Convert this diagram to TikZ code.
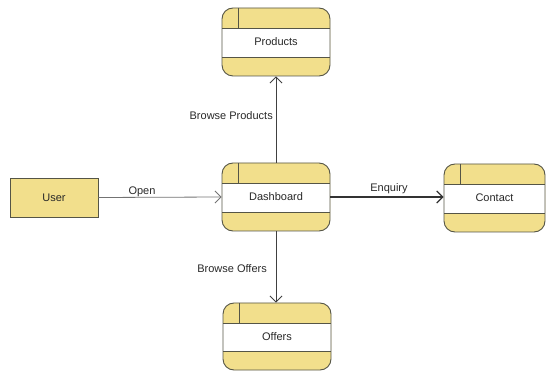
\documentclass[tikz,border=0pt]{standalone}
\usepackage{fontspec}
\setmainfont{Liberation Sans}
\usetikzlibrary{arrows.meta}
\definecolor{procfill}{RGB}{242,223,140}
\definecolor{procline}{RGB}{85,85,70}
\definecolor{txt}{RGB}{40,40,40}
\tikzset{
  procbox/.style={rectangle, rounded corners=11pt, draw=procline, line width=0.9pt,
    fill=procfill, minimum width=108pt, minimum height=68pt, inner sep=0pt,
    text=txt, font=\fontsize{11}{13}\selectfont,
    path picture={
      \fill[white, sharp corners] ([yshift=-20pt]path picture bounding box.north west) rectangle ([yshift=19pt]path picture bounding box.south east);
      \draw[procline, line width=0.9pt, sharp corners] ([yshift=-20pt]path picture bounding box.north west) -- ([yshift=-20pt]path picture bounding box.north east);
      \draw[procline, line width=0.9pt, sharp corners] ([yshift=19pt]path picture bounding box.south west) -- ([yshift=19pt]path picture bounding box.south east);
      \draw[procline, line width=0.9pt, sharp corners] ([xshift=16pt]path picture bounding box.north west) -- ([xshift=16pt,yshift=-20pt]path picture bounding box.north west);
    }},
  entbox/.style={rectangle, draw=procline, line width=0.9pt, fill=procfill,
    minimum width=88pt, minimum height=39pt, inner sep=0pt, text=txt,
    font=\fontsize{11}{13}\selectfont},
  flow/.style={draw=black!75, line width=0.8pt, -{Straight Barb[length=6pt,width=12pt]}},
  lbl/.style={text=txt, font=\fontsize{11}{13}\selectfont, inner sep=0pt}
}
\begin{document}
\begin{tikzpicture}[x=1pt,y=-1pt]
\useasboundingbox (0,0) rectangle (546,371);
\node[procbox] (products) at (276,42) {Products};
\node[procbox] (dashboard) at (276,197) {Dashboard};
\node[procbox, minimum width=101pt] (contact) at (494.5,198) {Contact};
\node[procbox, minimum height=67pt] (offers) at (277,336.5) {Offers};
\node[entbox] (user) at (54,197.5) {User};

\draw[flow, draw=black!55] (user.east) -- (dashboard.west);
\node[lbl] (lopen) at (142,192) {Open};
\draw[flow, line width=1.2pt, draw=black!80] (dashboard.east) -- (contact.west |- dashboard.east);
\node[lbl] (lenq) at (389,189) {Enquiry};
\draw[flow] (dashboard.north) -- (products.south);
\node[lbl, anchor=east] (lprod) at (273,116) {Browse Products};
\draw[flow] (dashboard.south) -- (dashboard.south |- offers.north);
\node[lbl, anchor=east] (loff) at (267,269) {Browse Offers};
\end{tikzpicture}
\end{document}
